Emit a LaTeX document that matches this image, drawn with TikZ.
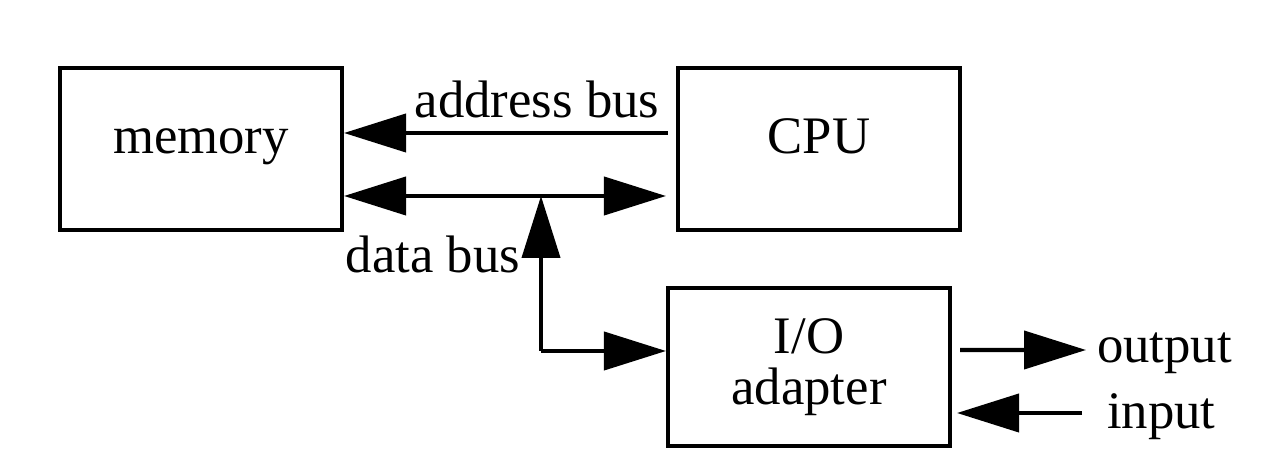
\documentclass[tikz,border=0pt]{standalone}
\usepackage{fontspec}
\setmainfont{Liberation Serif}
\usetikzlibrary{arrows.meta,calc}

\tikzset{
    unit/.style={draw, line width=2.3pt, minimum width=5.64cm, minimum height=3.24cm, align=center},
    oneline/.style={text height=0.68em, text depth=0.22em},
    lbl/.style={inner sep=0pt},
}

\begin{document}
\begin{tikzpicture}[>={Triangle[length=1.24cm,width=0.76cm]}, line width=2.3pt,
        every node/.style={font=\fontsize{30}{29}\selectfont}]
        \useasboundingbox (0,0) rectangle (25.6,9.24);

        \node[unit, oneline] (mem) at (4.02,6.26) {memory};
        \node[unit, oneline] (cpu) at (16.38,6.26) {CPU};
        \node[unit, minimum height=3.16cm] (io) at (16.18,1.9) {I/O\\adapter};

        % address bus
        \coordinate (abus) at ($(cpu.west)+(-0.16,0.32)$);
        \draw[->] (abus) -- (abus -| mem.east);
        \node[lbl, anchor=base] (alabel) at (10.74,6.88) {address bus};

        % data bus
        \coordinate (dbus) at ($(mem.east)+(0,-0.94)$);
        \coordinate (dend) at ($(cpu.west)+(-0.2,-0.94)$);
        \draw[<->] (dbus) -- (dend);
        \coordinate (dj) at (10.82,5.32);
        \coordinate (iobus) at ($(io.west)+(0,0.32)$);
        \draw[->] (iobus -| dj) -- (dj);
        \draw[->] (iobus -| dj) -- (iobus);
        \node[lbl, anchor=base east] (dlabel) at (10.44,3.78) {data bus};

        % output and input
        \coordinate (obus) at ($(io.east)+(0.16,0.34)$);
        \coordinate (oend) at (21.72,2.24);
        \draw[->] (obus) -- (oend);
        \node[lbl, anchor=west] (olabel) at (21.9,2.18) {output};
        \coordinate (ibus) at ($(io.east)+(0.1,-0.92)$);
        \coordinate (istart) at (21.64,0.98);
        \draw[->] (istart) -- (ibus);
        \node[lbl, anchor=west] (ilabel) at (22.1,0.9) {input};
\end{tikzpicture}
\end{document}
